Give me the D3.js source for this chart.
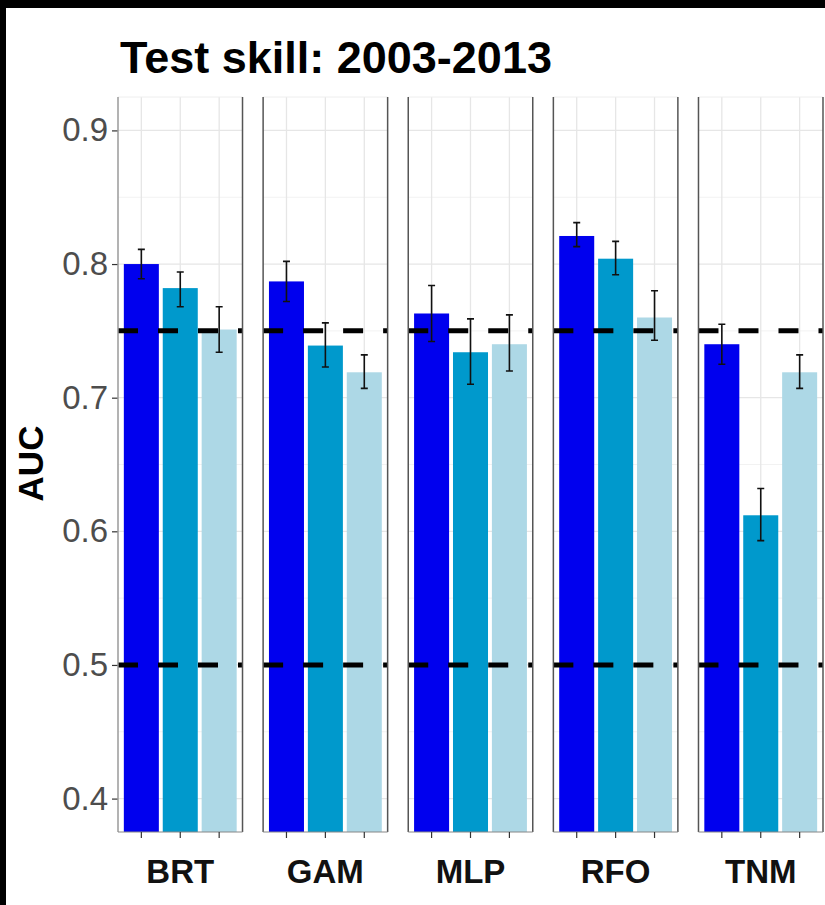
<!DOCTYPE html>
<html>
<head>
<meta charset="utf-8">
<script src="https://cdn.jsdelivr.net/npm/d3@7"></script>
<style>
  html, body { margin: 0; padding: 0; background: #000; }
  svg { display: block; }
  text { font-family: "Liberation Sans", Arial, Helvetica, sans-serif; }
</style>
</head>
<body>
<svg id="chart" width="825" height="905"></svg>
<script>
// Model facets, and the three runs drawn inside each facet
const models = ["BRT", "GAM", "MLP", "RFO", "TNM"];
const runs = ["run1", "run2", "run3"];

// Mean test AUC per model (one array per run)
const run1Auc = [0.800, 0.787, 0.763, 0.821, 0.740];
const run2Auc = [0.782, 0.739, 0.734, 0.804, 0.612];
const run3Auc = [0.751, 0.719, 0.740, 0.760, 0.719];

// Error bar bounds per run
const run1Lo = [0.789, 0.772, 0.742, 0.813, 0.725];
const run1Hi = [0.811, 0.802, 0.784, 0.831, 0.755];
const run2Lo = [0.768, 0.723, 0.710, 0.792, 0.593];
const run2Hi = [0.794, 0.756, 0.759, 0.817, 0.632];
const run3Lo = [0.734, 0.707, 0.720, 0.743, 0.707];
const run3Hi = [0.768, 0.732, 0.762, 0.780, 0.732];

// Y axis ticks and reference levels
const yTicks = [0.4, 0.5, 0.6, 0.7, 0.8, 0.9];
const yMinorTicks = [0.45, 0.55, 0.65, 0.75, 0.85];
const refLines = [0.75, 0.5];

const runColors = { run1: "#0000EE", run2: "#0099CC", run3: "#ADD8E6" };

const aucByRun = { run1: run1Auc, run2: run2Auc, run3: run3Auc };
const loByRun = { run1: run1Lo, run2: run2Lo, run3: run3Lo };
const hiByRun = { run1: run1Hi, run2: run2Hi, run3: run3Hi };

const rows = [];
models.forEach((m, i) => {
  runs.forEach(r => {
    rows.push({ model: m, run: r, auc: aucByRun[r][i], lo: loByRun[r][i], hi: hiByRun[r][i] });
  });
});

const svg = d3.select("#chart");

// White page with the dark frame on the top and left edges
svg.append("rect").attr("x", 6).attr("y", 8).attr("width", 819).attr("height", 897).attr("fill", "#fff");

const plotLeft = 118, plotRight = 823, plotTop = 97, plotBottom = 832;

const facet = d3.scaleBand().domain(models).range([plotLeft, plotRight])
  .paddingInner(0.142).paddingOuter(0);
const pw = facet.bandwidth();

const x = d3.scaleBand().domain(runs).range([0, pw])
  .paddingInner(0.1).paddingOuter(0.15);

const y = d3.scaleLinear().domain([0.375, 0.925]).range([plotBottom, plotTop]);

// Title
svg.append("text")
  .attr("x", 120).attr("y", 73)
  .attr("font-size", 45).attr("font-weight", "bold").attr("fill", "#000")
  .text("Test skill: 2003-2013");

// Y axis title
svg.append("text")
  .attr("transform", "translate(43,463.5) rotate(-90)")
  .attr("text-anchor", "middle")
  .attr("font-size", 35).attr("font-weight", "bold").attr("fill", "#000")
  .text("AUC");

// Y axis
const yAxis = svg.append("g")
  .attr("transform", `translate(${plotLeft},0)`)
  .call(d3.axisLeft(y).tickValues(yTicks).tickFormat(d3.format(".1f")).tickSize(6).tickPadding(4));
yAxis.select(".domain").remove();
yAxis.selectAll(".tick line").attr("stroke", "#333").attr("stroke-width", 1.2);
yAxis.selectAll(".tick text").attr("font-size", 33).attr("fill", "#4D4D4D")
  .attr("font-family", "'Liberation Sans', Arial, sans-serif");

const panels = svg.selectAll("g.panel").data(models).join("g")
  .attr("class", "panel")
  .attr("transform", d => `translate(${facet(d)},0)`);

const defs = svg.append("defs");
models.forEach((m, i) => {
  defs.append("clipPath").attr("id", "clip" + i)
    .append("rect").attr("x", 0).attr("y", plotTop).attr("width", pw).attr("height", plotBottom - plotTop);
});

panels.each(function (m, i) {
  const g = d3.select(this);
  const inner = g.append("g").attr("clip-path", `url(#clip${i})`);

  // Grid lines
  inner.selectAll("line.minor").data(yMinorTicks).join("line")
    .attr("x1", 0).attr("x2", pw)
    .attr("y1", d => y(d)).attr("y2", d => y(d))
    .attr("stroke", "#F2F2F2").attr("stroke-width", 1);
  inner.selectAll("line.major").data(yTicks).join("line")
    .attr("x1", 0).attr("x2", pw)
    .attr("y1", d => y(d)).attr("y2", d => y(d))
    .attr("stroke", "#E6E6E6").attr("stroke-width", 1.3);
  inner.selectAll("line.vgrid").data(runs).join("line")
    .attr("x1", d => x(d) + x.bandwidth() / 2).attr("x2", d => x(d) + x.bandwidth() / 2)
    .attr("y1", plotTop).attr("y2", plotBottom)
    .attr("stroke", "#E6E6E6").attr("stroke-width", 1.3);

  const data = rows.filter(r => r.model === m);

  // Bars (drawn from zero, clipped to the panel)
  inner.selectAll("rect.bar").data(data).join("rect")
    .attr("class", "bar")
    .attr("x", d => x(d.run))
    .attr("width", x.bandwidth())
    .attr("y", d => y(d.auc))
    .attr("height", d => y(0.3) - y(d.auc))
    .attr("fill", d => runColors[d.run]);

  // Error bars
  const eb = inner.selectAll("g.eb").data(data).join("g")
    .attr("transform", d => `translate(${x(d.run) + x.bandwidth() / 2},0)`);
  eb.append("line").attr("y1", d => y(d.lo)).attr("y2", d => y(d.hi))
    .attr("stroke", "#111").attr("stroke-width", 1.6);
  eb.append("line").attr("x1", -3.5).attr("x2", 3.5).attr("y1", d => y(d.hi)).attr("y2", d => y(d.hi))
    .attr("stroke", "#111").attr("stroke-width", 1.6);
  eb.append("line").attr("x1", -3.5).attr("x2", 3.5).attr("y1", d => y(d.lo)).attr("y2", d => y(d.lo))
    .attr("stroke", "#111").attr("stroke-width", 1.6);

  // Dashed reference levels
  inner.selectAll("line.ref").data(refLines).join("line")
    .attr("x1", 0).attr("x2", pw)
    .attr("y1", d => y(d)).attr("y2", d => y(d))
    .attr("stroke", "#000").attr("stroke-width", 5)
    .attr("stroke-dasharray", "20,20");

  // Panel border
  g.append("line").attr("x1", 0).attr("x2", pw).attr("y1", plotTop).attr("y2", plotTop)
    .attr("stroke", "#EEEEEE").attr("stroke-width", 1);
  g.append("line").attr("x1", 0).attr("x2", 0).attr("y1", plotTop).attr("y2", plotBottom)
    .attr("stroke", i === 0 ? "#9A9A9A" : "#555").attr("stroke-width", 1.5);
  g.append("line").attr("x1", pw).attr("x2", pw).attr("y1", plotTop).attr("y2", plotBottom)
    .attr("stroke", "#555").attr("stroke-width", 1.5);
  g.append("line").attr("x1", 0).attr("x2", pw).attr("y1", plotBottom).attr("y2", plotBottom)
    .attr("stroke", "#888").attr("stroke-width", 1.2);

  // X ticks at each bar
  g.selectAll("line.xt").data(runs).join("line")
    .attr("x1", d => x(d) + x.bandwidth() / 2).attr("x2", d => x(d) + x.bandwidth() / 2)
    .attr("y1", plotBottom).attr("y2", plotBottom + 6)
    .attr("stroke", "#333").attr("stroke-width", 1.2);

  // Facet label
  g.append("text")
    .attr("x", pw / 2).attr("y", 883)
    .attr("text-anchor", "middle")
    .attr("font-size", 33).attr("font-weight", "bold").attr("fill", "#111")
    .text(m);
});
</script>
</body>
</html>
